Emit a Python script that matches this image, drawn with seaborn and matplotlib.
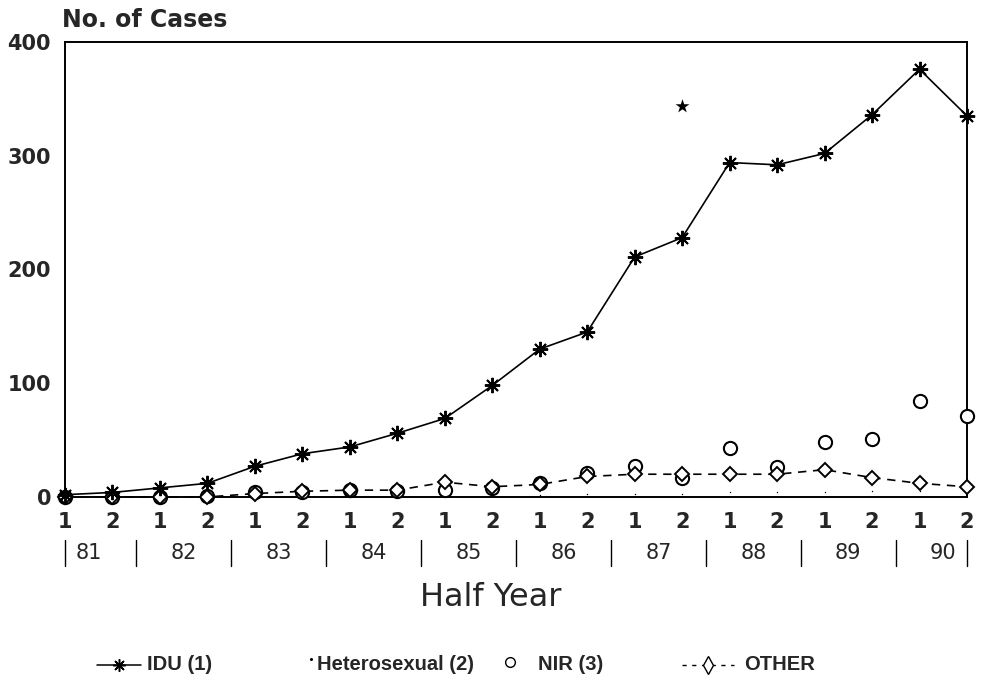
import numpy as np
import pandas as pd
import matplotlib
matplotlib.use("Agg")
import matplotlib.pyplot as plt
import seaborn as sns
from matplotlib.lines import Line2D

# half-year periods 1981-1 .. 1990-2
years = ["81", "82", "83", "84", "85", "86", "87", "88", "89", "90"]
halves = ["1", "2"] * len(years)
periods = [f"{y}-{h}" for y in years for h in ("1", "2")]

idu = [2, 4, 8, 12, 27, 38, 44, 56, 69, 98, 130, 145, 211, 228,
       294, 292, 302, 336, 376, 335]
hetero = [0, 1, 1, 1, 1, 1, 2, 1, 2, 2, 2, 3, 3, 3, 4, 4, 4, 5, 5, 6]
nir = [0, 0, 0, 1, 4, 4, 6, 5, 6, 8, 12, 21, 27, 17, 43, 26, 48, 51, 84, 71]
other = [0, 0, 0, 0, 3, 5, 6, 6, 13, 9, 11, 18, 20, 20, 20, 20, 24, 17, 12, 9]

# stray star mark above 1987-2
star_period = "87-2"
star_value = 344

df = pd.DataFrame({"idx": np.arange(len(periods)), "period": periods,
                   "IDU": idu, "Hetero": hetero, "NIR": nir, "OTHER": other})

sns.set_style("white")
plt.rcParams["font.family"] = ["DejaVu Sans"]

fig = plt.figure(figsize=(9.82, 6.89), dpi=100)
ax = fig.add_axes([0.0662, 0.2787, 0.9185, 0.6604])

sns.lineplot(data=df, x="idx", y="IDU", ax=ax, color="black", linewidth=1.2,
             marker=(8, 2, 0), markersize=11, markeredgewidth=1.4,
             markeredgecolor="black", clip_on=False, zorder=4)
sns.scatterplot(data=df, x="idx", y="Hetero", ax=ax, color="black", s=1,
                marker="o", linewidth=0, clip_on=False, zorder=2)
sns.lineplot(data=df, x="idx", y="NIR", ax=ax, color="black", linestyle="none",
             marker="o", markersize=9.5, markerfacecolor="white",
             markeredgecolor="black", markeredgewidth=1.5, clip_on=False,
             zorder=3)
sns.lineplot(data=df, x="idx", y="OTHER", ax=ax, color="black", linewidth=1.2,
             linestyle=(0, (5, 4)), marker="D", markersize=7.5,
             markerfacecolor="white", markeredgecolor="black",
             markeredgewidth=1.4, clip_on=False, zorder=3)
star_idx = periods.index(star_period)
sns.scatterplot(x=[star_idx], y=[star_value], ax=ax, color="black",
                marker="*", s=110, linewidth=0, zorder=5)

ax.set_xlim(0, len(periods) - 1)
ax.set_ylim(0, 400)
ax.set_yticks([0, 100, 200, 300, 400])
ax.set_yticklabels(["0", "100", "200", "300", "400"], fontsize=15,
                   fontweight="bold")
ax.set_xticks(df["idx"])
ax.set_xticklabels(halves, fontsize=15, fontweight="bold")
ax.tick_params(axis="both", direction="in", length=7, width=1.3,
               color="black")
ax.tick_params(axis="y", pad=10)
ax.tick_params(axis="x", pad=11)
ax.set_xlabel("")
ax.set_ylabel("")
for s in ax.spines.values():
    s.set_color("black")
    s.set_linewidth(1.4)

# year row with separators
trans = ax.get_xaxis_transform()
for k, yr in enumerate(years):
    ax.text(2 * k + 0.5, -0.123, yr, transform=trans, ha="center",
            va="center", fontsize=15)
sep_pos = [0] + [2 * k - 0.5 for k in range(1, len(years))] + [len(periods) - 1]
for xp in sep_pos:
    ax.plot([xp, xp], [-0.095, -0.152], transform=trans, color="black",
            linewidth=1.0, clip_on=False)

fig.text(0.5, (689 - 598) / 689, "Half Year", ha="center", va="center",
         fontsize=23)
fig.text(62 / 982, (689 - 20) / 689, "No. of Cases", ha="left", va="center",
         fontsize=17, fontweight="bold")

# legend drawn as a row of handles and labels
leg_y = (689 - 665) / 689
leg_font = {"family": "Liberation Sans", "size": 14.5, "weight": "bold"}


def fx(px):
    return px / 982


fig.add_artist(Line2D([fx(97), fx(141)], [leg_y, leg_y], color="black",
                      linewidth=1.1))
fig.add_artist(Line2D([fx(119)], [leg_y], color="black", marker=(8, 2, 0),
                      markersize=9, markeredgewidth=1.1))
fig.text(fx(147), leg_y, "IDU (1)", va="center", ha="left", **leg_font)
fig.add_artist(Line2D([fx(311)], [leg_y + 0.008], color="black", marker="o",
                      markersize=1.2, linestyle="none"))
fig.text(fx(317), leg_y, "Heterosexual (2)", va="center", ha="left",
         **leg_font)
fig.add_artist(Line2D([fx(510)], [leg_y + 0.004], color="black", marker="o",
                      markersize=7, markerfacecolor="white",
                      markeredgewidth=1.0, linestyle="none"))
fig.text(fx(538), leg_y, "NIR (3)", va="center", ha="left", **leg_font)
fig.add_artist(Line2D([fx(682), fx(734)], [leg_y, leg_y], color="black",
                      linewidth=1.0, linestyle=(0, (3, 4))))
fig.add_artist(Line2D([fx(708)], [leg_y], color="black", marker="d",
                      markersize=9, markerfacecolor="white",
                      markeredgewidth=1.0, linestyle="none"))
fig.text(fx(744), leg_y, "OTHER", va="center", ha="left", **leg_font)

fig.savefig("out.png", dpi=100)
